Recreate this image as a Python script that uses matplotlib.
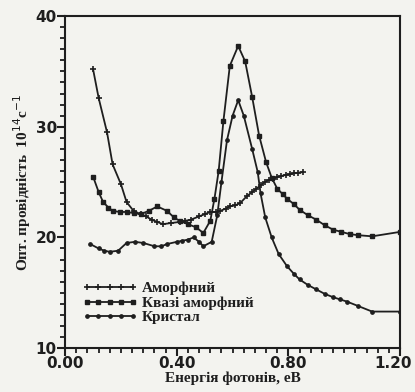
import numpy as np
import matplotlib
matplotlib.use('Agg')
import matplotlib.pyplot as plt
import matplotlib.transforms as mtrans
from matplotlib.ticker import MultipleLocator

# amorphous (+)
amorph_x = [0.10, 0.12, 0.15, 0.17, 0.20, 0.22, 0.245, 0.27, 0.29, 0.31, 0.33, 0.35,
            0.38, 0.41, 0.43, 0.45, 0.48, 0.50, 0.52, 0.54, 0.556, 0.575, 0.59, 0.61,
            0.627, 0.65, 0.67, 0.685, 0.70, 0.715, 0.73, 0.745, 0.76, 0.775, 0.79,
            0.806, 0.82, 0.835, 0.853]
amorph_y = [35.2, 32.6, 29.5, 26.6, 24.8, 23.2, 22.4, 22.1, 21.9, 21.6, 21.4, 21.2,
            21.3, 21.4, 21.5, 21.6, 21.9, 22.1, 22.3, 22.3, 22.4, 22.6, 22.8, 22.9,
            23.1, 23.7, 24.1, 24.4, 24.7, 25.0, 25.2, 25.3, 25.45, 25.55, 25.65,
            25.7, 25.8, 25.85, 25.9]

# quasi-amorphous (squares)
quasi_x = [0.10, 0.12, 0.136, 0.155, 0.17, 0.195, 0.22, 0.245, 0.27, 0.30, 0.33,
           0.365, 0.39, 0.41, 0.44, 0.47, 0.495, 0.52, 0.535, 0.55, 0.567, 0.59,
           0.62, 0.645, 0.67, 0.695, 0.72, 0.74, 0.76, 0.78, 0.795, 0.82, 0.84,
           0.87, 0.90, 0.93, 0.96, 0.99, 1.02, 1.05, 1.10, 1.20]
quasi_y = [25.5, 24.1, 23.2, 22.7, 22.4, 22.3, 22.3, 22.2, 22.1, 22.4, 22.8,
           22.4, 21.8, 21.5, 21.2, 20.9, 20.4, 21.5, 23.5, 26.0, 30.5, 35.5,
           37.3, 35.9, 32.7, 29.2, 26.8, 25.4, 24.4, 23.9, 23.5, 23.0, 22.5,
           22.0, 21.6, 21.1, 20.7, 20.5, 20.3, 20.2, 20.1, 20.5]

# crystal (dots)
cryst_x = [0.09, 0.12, 0.14, 0.16, 0.19, 0.22, 0.25, 0.28, 0.32, 0.345, 0.365,
           0.40, 0.42, 0.44, 0.46, 0.48, 0.495, 0.525, 0.545, 0.56, 0.58, 0.60,
           0.62, 0.64, 0.67, 0.69, 0.70, 0.717, 0.74, 0.765, 0.795, 0.82, 0.84,
           0.87, 0.90, 0.93, 0.96, 0.985, 1.01, 1.05, 1.10, 1.20]
cryst_y = [19.4, 19.0, 18.8, 18.7, 18.8, 19.5, 19.6, 19.5, 19.2, 19.2, 19.4,
           19.6, 19.7, 19.8, 20.0, 19.6, 19.2, 19.6, 22.0, 25.0, 28.8, 31.0,
           32.4, 31.0, 28.0, 25.9, 24.0, 21.8, 20.0, 18.5, 17.4, 16.7, 16.2,
           15.7, 15.3, 14.9, 14.6, 14.4, 14.2, 13.8, 13.3, 13.3]

serif = 'Liberation Serif'
plt.rcParams['font.family'] = serif

fig = plt.figure(figsize=(4.15, 3.92), dpi=100)
fig.patch.set_facecolor('#f3f3ef')
ax = fig.add_axes([0.157, 0.112, 0.807, 0.847])
ax.set_facecolor('#f3f3ef')

ink = '#1e1e1e'
ax.plot(amorph_x, amorph_y, color=ink, lw=1.3, marker='+', ms=4, mew=1.2,
        label='Аморфний')
ax.plot(quasi_x, quasi_y, color=ink, lw=1.3, marker='s', ms=2.8,
        label='Квазі аморфний')
ax.plot(cryst_x, cryst_y, color=ink, lw=1.3, marker='o', ms=2.4,
        label='Кристал')

ax.set_xlim(0, 1.2)
ax.set_ylim(10, 40)
ax.xaxis.set_major_locator(MultipleLocator(0.4))
ax.xaxis.set_minor_locator(MultipleLocator(0.04))
ax.yaxis.set_major_locator(MultipleLocator(10))
ax.yaxis.set_minor_locator(MultipleLocator(1))
ax.tick_params(which='major', length=6, width=1.5, color=ink, pad=0)
ax.tick_params(which='minor', length=3.5, width=1.3, color=ink)
ax.set_xticks([0, 0.4, 0.8, 1.2])
ax.set_xticklabels(['0.00', '0.40', '0.80', '1.20'])
for lab in ax.get_xticklabels() + ax.get_yticklabels():
    lab.set_fontsize(11)
    lab.set_fontweight('bold')
    lab.set_family('DejaVu Sans')
    lab.set_color(ink)
# pull the last x label in a bit so it stays on the canvas
last = ax.get_xticklabels()[-1]
last.set_transform(last.get_transform() +
                   mtrans.ScaledTranslation(-5 / 72, 0, fig.dpi_scale_trans))
for s in ax.spines.values():
    s.set_linewidth(1.5)
    s.set_color(ink)

ax.set_xlabel('Енергія фотонів, еВ', fontsize=11, fontweight='bold',
              color=ink, labelpad=0)
ax.set_ylabel('Опт. провідність  10$^{14}$с$^{-1}$', fontsize=11,
              fontweight='bold', color=ink, labelpad=2)

leg = ax.legend(loc='lower left', bbox_to_anchor=(0.01, 0.03), frameon=False,
                numpoints=5, handlelength=3.6, handletextpad=0.3,
                labelspacing=0.05, prop={'family': serif, 'weight': 'bold',
                                          'size': 11})
for t in leg.get_texts():
    t.set_color(ink)

fig.savefig('out.png', dpi=100, facecolor=fig.get_facecolor())
